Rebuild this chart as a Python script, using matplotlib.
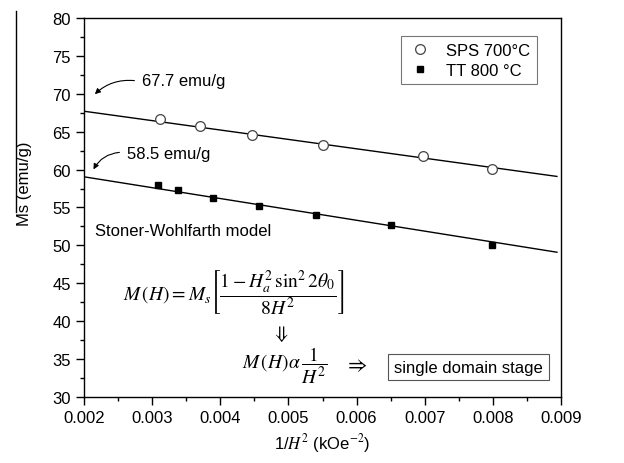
import matplotlib
matplotlib.use("Agg")
import matplotlib.pyplot as plt
from matplotlib.ticker import MultipleLocator
from matplotlib.lines import Line2D

plt.rcParams['font.family'] = ['Liberation Sans', 'DejaVu Sans']
plt.rcParams['mathtext.fontset'] = 'stix'

# Data
sps_x = [0.00311, 0.00370, 0.00447, 0.00551, 0.00698, 0.00799]
sps_y = [66.7, 65.7, 64.5, 63.3, 61.75, 60.1]
tt_x = [0.00309, 0.00338, 0.00390, 0.00457, 0.00541, 0.00651, 0.00799]
tt_y = [57.97, 57.27, 56.25, 55.15, 54.0, 52.7, 50.1]
fit_x = [0.002, 0.00894]
sps_fit = [67.7, 59.1]
tt_fit = [59.05, 49.1]

fig = plt.figure(figsize=(6.24, 4.64), dpi=100)
ax = fig.add_axes([84/624, 1-398/464, (561-84)/624, (398-19)/464])

ax.plot(fit_x, sps_fit, color='black', lw=1.0)
ax.plot(fit_x, tt_fit, color='black', lw=1.0)
ax.plot(sps_x, sps_y, linestyle='none', marker='o', ms=7, mfc='white', mec='#444444', mew=0.9, label='SPS 700°C')
ax.plot(tt_x, tt_y, linestyle='none', marker='s', ms=5, mfc='black', mec='black', label='TT 800 °C')

ax.set_xlim(0.002, 0.009)
ax.set_ylim(30, 80)
ax.xaxis.set_major_locator(MultipleLocator(0.001))
ax.xaxis.set_minor_locator(MultipleLocator(0.0005))
ax.yaxis.set_major_locator(MultipleLocator(5))
ax.yaxis.set_minor_locator(MultipleLocator(2.5))
ax.tick_params(which='major', direction='out', length=6, width=1, labelsize=12)
ax.tick_params(which='minor', direction='out', length=3, width=1)
ax.xaxis.set_major_formatter(matplotlib.ticker.FuncFormatter(lambda v, p: f"{v:.3f}"))
for s in ax.spines.values():
    s.set_linewidth(1.0)

ax.set_xlabel(r'1/$\mathit{H}$$^{\,2}$ (kOe$^{-2}$)', fontsize=12, labelpad=4)
fig.text(25/624, 1-184/464, 'Ms (emu/g)', rotation=90, fontsize=12, ha='center', va='center')
fig.add_artist(Line2D([16/624, 16/624], [1-12/464, 1-213/464], color='black', lw=1.0))

leg = ax.legend(loc='upper right', bbox_to_anchor=(537/624, 1-37/464), bbox_transform=fig.transFigure,
                borderaxespad=0, fancybox=False, edgecolor='#555555', fontsize=12,
                handletextpad=0.8, borderpad=0.4, labelspacing=0.3, handlelength=1.5)
leg.get_frame().set_linewidth(0.8)

# annotations
ax.text(0.00285, 71.7, '67.7 emu/g', fontsize=12, va='center', ha='left')
ax.annotate('', xy=(0.00213, 69.7), xytext=(0.00278, 71.7),
            arrowprops=dict(arrowstyle='-|>', color='black', lw=0.8, mutation_scale=8,
                            connectionstyle='arc3,rad=0.25'))
ax.text(0.00263, 62.06, '58.5 emu/g', fontsize=12, va='center', ha='left')
ax.annotate('', xy=(0.00212, 59.7), xytext=(0.00256, 62.3),
            arrowprops=dict(arrowstyle='-|>', color='black', lw=0.8, mutation_scale=8,
                            connectionstyle='arc3,rad=0.3'))

ax.text(0.00216, 51.9, 'Stoner-Wohlfarth model', fontsize=12, va='center', ha='left')
ax.text(0.00257, 43.8, r'$M\,(H) = M_s\left[\dfrac{1 - H_a^2\,\sin^2 2\theta_0}{8H^2}\right]$',
        fontsize=14, va='center', ha='left')
ax.text(0.00488, 38.5, r'$\Downarrow$', fontsize=14, va='center', ha='center')
ax.text(0.00432, 34.2, r'$M\,(H)\alpha\,\dfrac{1}{H^2}$', fontsize=14, va='center', ha='left')
ax.text(0.00598, 34.3, r'$\Rightarrow$', fontsize=15, va='center', ha='center')
ax.text(0.00655, 33.95, 'single domain stage', fontsize=12, va='center', ha='left',
        bbox=dict(boxstyle='square,pad=0.35', fc='white', ec='#555555', lw=0.8))

fig.savefig('out.png', dpi=100)
